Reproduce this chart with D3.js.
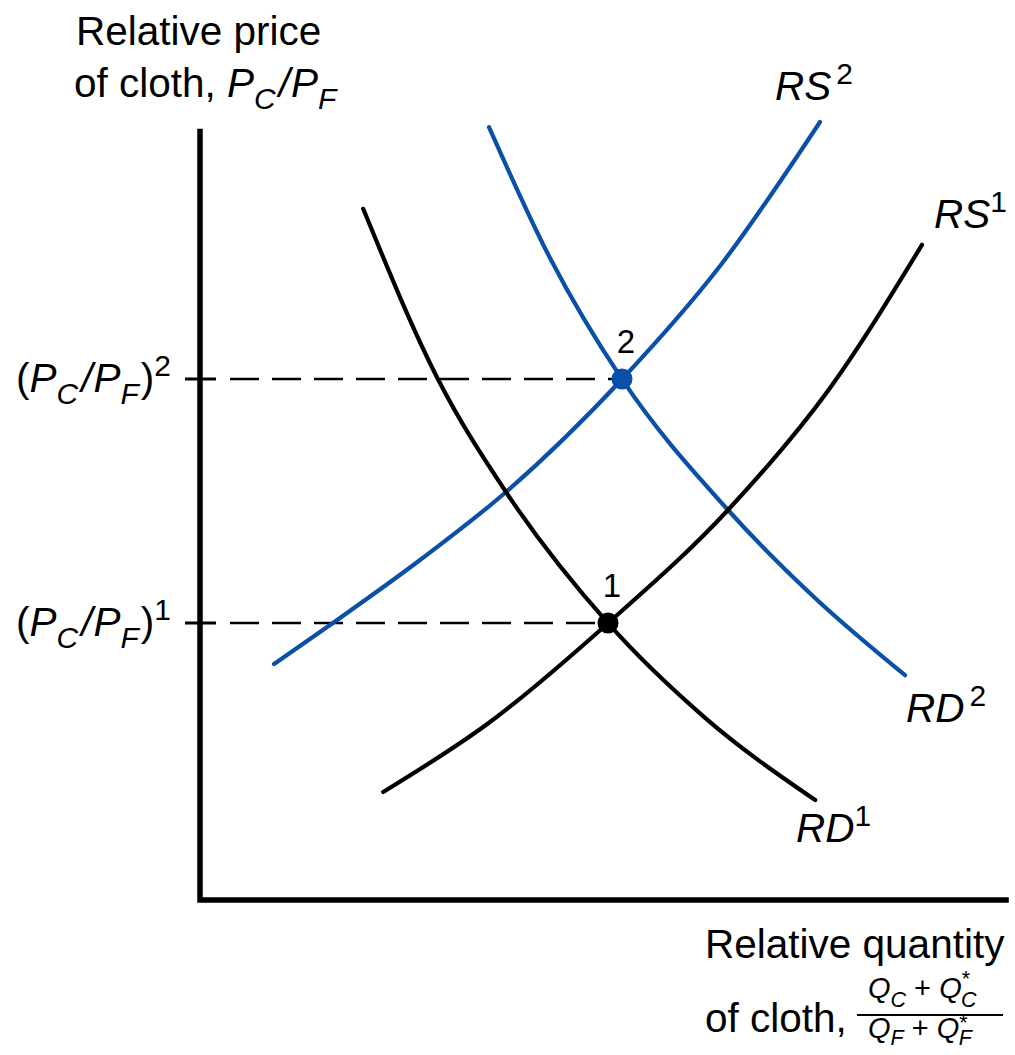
<!DOCTYPE html>
<html>
<head>
<meta charset="utf-8">
<script src="https://cdn.jsdelivr.net/npm/d3@7"></script>
<style>
body{margin:0;background:#fff;}
text{font-family:"Liberation Sans",Arial,Helvetica,sans-serif;fill:#000;}
</style>
</head>
<body>
<svg id="chart"></svg>
<script>
var width = 1015, height = 1055;
var blue = "#0a4fa8";

// curves, in plot units (x: relative quantity, y: relative price)
var rd1 = [[2.04,8.64],[2.975,6.51],[3.825,5.1],[5.1,3.46],[6.31,2.28],[7.69,1.25]];
var rs1 = [[2.29,1.35],[3.625,2.225],[5.1,3.46],[6.6,4.875],[7.875,6.4],[9.025,8.19]];
var rs2 = [[0.925,2.95],[1.625,3.4375],[2.75,4.25],[3.825,5.1],[5.275,6.51],[6.5,7.925],[7.75,9.725]];
var rd2 = [[3.6125,9.66],[4.375,8.025],[5.275,6.51],[6.6,4.875],[7.6875,3.775],[8.8125,2.81]];

// equilibria
var eqNames = ["1","2"];
var eqX = [5.1, 5.275];
var eqY = [3.4625, 6.5125];
var eqColor = ["#000", blue];

var svg = d3.select("#chart").attr("width", width).attr("height", height);

var x = d3.scaleLinear().domain([0,10]).range([200,1000]);
var y = d3.scaleLinear().domain([0,10]).range([900,100]);

var line = d3.line()
    .x(function(d){ return x(d[0]); })
    .y(function(d){ return y(d[1]); })
    .curve(d3.curveMonotoneX);

// dashed guides + ticks
eqNames.forEach(function(n,i){
    svg.append("line")
        .attr("x1", x(0)+30).attr("x2", x(eqX[i]))
        .attr("y1", y(eqY[i])).attr("y2", y(eqY[i]))
        .attr("stroke","#000").attr("stroke-width",2.5)
        .attr("stroke-dasharray","29,13");
    svg.append("line")
        .attr("x1", x(0)-15).attr("x2", x(0)+16)
        .attr("y1", y(eqY[i])).attr("y2", y(eqY[i]))
        .attr("stroke","#000").attr("stroke-width",3);
});

// axes
svg.append("path")
    .attr("d", "M"+x(0)+","+y(9.64)+"V"+y(0)+"H"+x(10.11))
    .attr("fill","none").attr("stroke","#000").attr("stroke-width",5.5);

// curves
[[rs2,blue],[rd2,blue],[rd1,"#000"],[rs1,"#000"]].forEach(function(c){
    svg.append("path").attr("d", line(c[0]))
        .attr("fill","none").attr("stroke",c[1]).attr("stroke-width",4.2)
        .attr("stroke-linecap","round");
});

// equilibrium points
svg.selectAll(".eq").data(eqNames).join("circle")
    .attr("class","eq")
    .attr("cx",function(d,i){ return x(eqX[i]); })
    .attr("cy",function(d,i){ return y(eqY[i]); })
    .attr("r",10.5)
    .attr("fill",function(d,i){ return eqColor[i]; });
svg.selectAll(".eqlab").data(eqNames).join("text")
    .attr("class","eqlab")
    .attr("x",function(d,i){ return x(eqX[i])+4; })
    .attr("y",function(d,i){ return y(eqY[i])-26; })
    .attr("text-anchor","middle")
    .style("font-size","33px")
    .text(function(d){ return d; });

// text with sub/superscripts
function rich(px, py, parts, size, supShift, subShift){
    var t = svg.append("text").attr("x",px).attr("y",py).style("font-size",size+"px");
    var off = 0;
    var up = supShift || 0.4, down = subShift || 0.3;
    parts.forEach(function(p){
        var target = p.sub ? size*down : p.sup ? -size*up : 0;
        var ts = t.append("tspan")
            .attr("dy", target-off)
            .style("font-style", p.it ? "italic" : "normal")
            .style("font-size", (p.sub||p.sup) ? (size*0.74)+"px" : size+"px")
            .text(p.t);
        if (p.dx) ts.attr("dx", p.dx);
        off = target;
    });
    return t;
}

var F = 40.5;
var ratio = [{t:"P",it:1},{t:"C",it:1,sub:1},{t:"/",it:1,dx:3},{t:"P",it:1,dx:1},{t:"F",it:1,sub:1}];

rich(76, 45, [{t:"Relative price"}], F);
rich(74, 97, [{t:"of cloth, "}].concat(ratio), F);
rich(16, 392, [{t:"("}].concat(ratio,[{t:")",dx:2},{t:"2",sup:1}]), F);
rich(16, 636, [{t:"("}].concat(ratio,[{t:")",dx:2},{t:"1",sup:1}]), F);

rich(775, 100, [{t:"RS",it:1},{t:"2",sup:1,dx:5}], F);
rich(934, 228, [{t:"RS",it:1},{t:"1",sup:1}], F);
rich(906, 722, [{t:"RD",it:1},{t:"2",sup:1,dx:5}], F);
rich(796, 842, [{t:"RD",it:1},{t:"1",sup:1}], F);

rich(705, 958, [{t:"Relative quantity"}], F);
rich(705, 1032, [{t:"of cloth,"}], F);

// fraction
var fs = 29;
rich(868, 998, [{t:"Q",it:1},{t:"C",it:1,sub:1},{t:" + "},{t:"Q",it:1},{t:"*",sup:1},{t:"C",it:1,sub:1,dx:-9}], fs);
svg.append("line").attr("x1",857).attr("x2",1003).attr("y1",1015).attr("y2",1015)
    .attr("stroke","#000").attr("stroke-width",2.2);
rich(868, 1038, [{t:"Q",it:1},{t:"F",it:1,sub:1},{t:" + "},{t:"Q",it:1},{t:"*",sup:1},{t:"F",it:1,sub:1,dx:-9}], fs, 0.28, 0.24);
</script>
</body>
</html>
